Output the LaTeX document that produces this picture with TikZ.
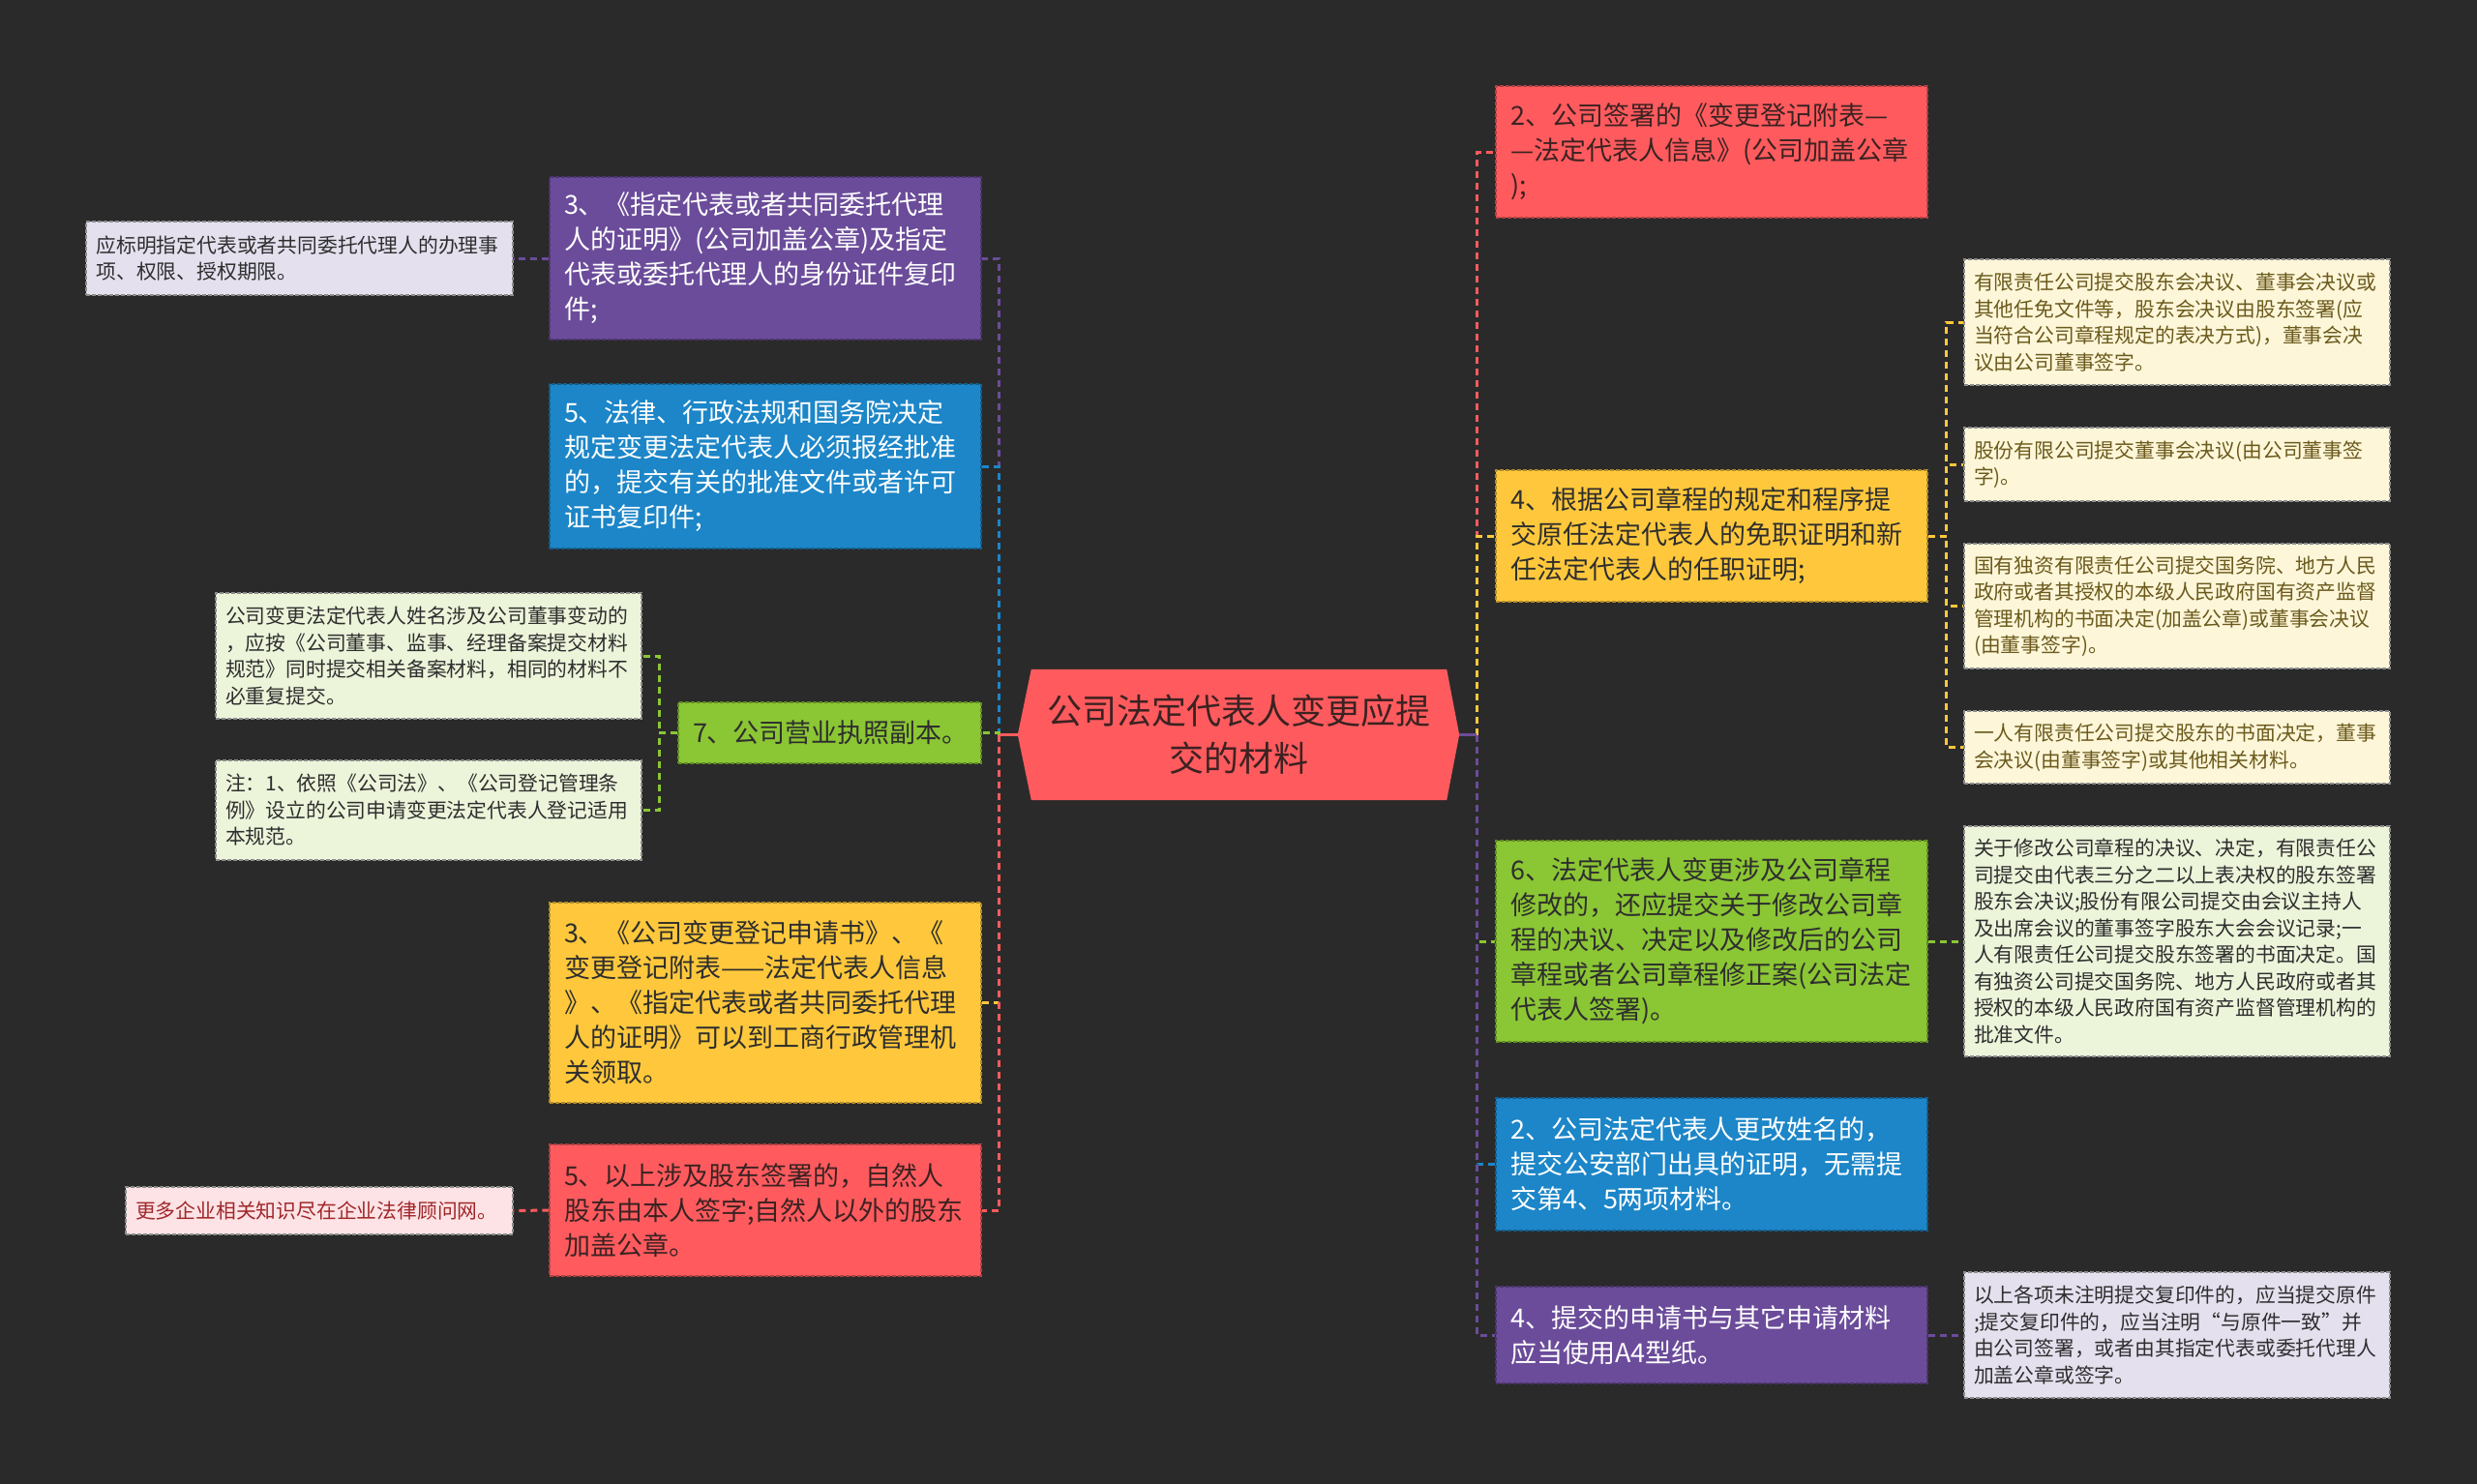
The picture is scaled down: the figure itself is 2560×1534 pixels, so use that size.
\documentclass[tikz,border=0pt]{standalone}
\usepackage{fontspec}
\setmainfont{Noto Sans CJK SC}
\usetikzlibrary{backgrounds}
\definecolor{bgc}{HTML}{2A2A2A}
\definecolor{cpurple}{HTML}{6B4C9A}
\definecolor{cblue}{HTML}{1C86C8}
\definecolor{cgreen}{HTML}{8BC634}
\definecolor{cyellow}{HTML}{FFC83C}
\definecolor{cred}{HTML}{FF5B5E}
\definecolor{llav}{HTML}{E4E0EE}
\definecolor{lgreen}{HTML}{ECF4DA}
\definecolor{lyellow}{HTML}{FDF6D9}
\definecolor{lpink}{HTML}{FDE3E5}
\definecolor{darktext}{HTML}{2E2E2E}
\definecolor{redtext}{HTML}{3C2222}
\definecolor{olivetext}{HTML}{6B5A1C}
\definecolor{pinktext}{HTML}{A0262A}
\pgfdeclarelayer{back}
\pgfsetlayers{back,background,main}
\tikzset{
  box/.style={rectangle, line width=1.2pt, dash pattern=on 4pt off 2pt,
    inner xsep=15pt, inner ysep=0pt, align=left,
    font=\fontsize{27}{36}\selectfont},
  mainbox/.style={box, minimum width=446pt, text width=416pt},
  leafbox/.style={rectangle, line width=1.1pt, dash pattern=on 4pt off 2pt,
    draw=black!45, inner xsep=10pt, inner ysep=0pt, align=left,
    font=\fontsize{20.8}{27.5}\selectfont},
  leaf/.style={leafbox, minimum width=440pt, text width=420pt},
  conn/.style={line width=3pt, dash pattern=on 7pt off 5pt},
  stub/.style={line width=3pt},
  ht/.style={minimum height=#1},
}
\begin{document}
\begin{tikzpicture}[x=1pt,y=-1pt]
\begin{pgfonlayer}{back}
\fill[bgc] (0,0) rectangle (2560,1534);
\end{pgfonlayer}
\useasboundingbox (0,0) rectangle (2560,1534);

% center
\node[font=\fontsize{36}{49}\selectfont, align=center, text=redtext,
  minimum width=456pt, minimum height=135pt, inner sep=0pt] (C) at (1280,759.5)
  {公司法定代表人变更应提\\交的材料};
\begin{pgfonlayer}{background}
\fill[cred] ([xshift=14pt]C.north west) -- ([xshift=-13pt]C.north east) -- (C.east)
  -- ([xshift=-13pt]C.south east) -- ([xshift=14pt]C.south west) -- (C.west) -- cycle;
\end{pgfonlayer}
\coordinate (TL) at ([xshift=-19pt]C.west);
\coordinate (TR) at ([xshift=18pt]C.east);

% left main nodes
\node[mainbox, ht=168pt, fill=cpurple, draw=cpurple!70!black, text=white] (L1) at (791,267)
  {3、《指定代表或者共同委托代理\\人的证明》(公司加盖公章)及指定\\代表或委托代理人的身份证件复印\\件;};
\node[mainbox, ht=170pt, fill=cblue, draw=cblue!70!black, text=white] (L2) at (791,482)
  {5、法律、行政法规和国务院决定\\规定变更法定代表人必须报经批准\\的，提交有关的批准文件或者许可\\证书复印件;};
\node[box, minimum width=313pt, text width=283pt, ht=63pt, fill=cgreen, draw=cgreen!70!black, text=darktext] (L3) at (857.5,757.5)
  {7、公司营业执照副本。};
\node[mainbox, ht=207pt, fill=cyellow, draw=cyellow!70!black, text=darktext] (L4) at (791,1036.5)
  {3、《公司变更登记申请书》、《\\变更登记附表——法定代表人信息\\》、《指定代表或者共同委托代理\\人的证明》可以到工商行政管理机\\关领取。};
\node[mainbox, ht=136pt, fill=cred, draw=cred!70!black, text=redtext] (L5) at (791,1251)
  {5、以上涉及股东签署的，自然人\\股东由本人签字;自然人以外的股东\\加盖公章。};

% left leaves
\node[leaf, minimum width=441pt, ht=76pt, fill=llav, text=darktext] (LL1) at (309.5,267)
  {应标明指定代表或者共同委托代理人的办理事\\项、权限、授权期限。};
\node[leaf, ht=130pt, fill=lgreen, text=darktext] (LL2) at (443,678)
  {公司变更法定代表人姓名涉及公司董事变动的\\，应按《公司董事、监事、经理备案提交材料\\规范》同时提交相关备案材料，相同的材料不\\必重复提交。};
\node[leaf, ht=103pt, fill=lgreen, text=darktext] (LL3) at (443,837.5)
  {注：1、依照《公司法》、《公司登记管理条\\例》设立的公司申请变更法定代表人登记适用\\本规范。};
\node[leafbox, minimum width=400pt, text width=380pt, ht=49pt, fill=lpink, text=pinktext] (LL4) at (330,1251.5)
  {更多企业相关知识尽在企业法律顾问网。};

% right main nodes
\node[mainbox, ht=136pt, fill=cred, draw=cred!70!black, text=redtext] (R1) at (1769,157)
  {2、公司签署的《变更登记附表—\\—法定代表人信息》(公司加盖公章\\);};
\node[mainbox, ht=136pt, fill=cyellow, draw=cyellow!70!black, text=darktext] (R2) at (1769,554)
  {4、根据公司章程的规定和程序提\\交原任法定代表人的免职证明和新\\任法定代表人的任职证明;};
\node[mainbox, ht=208pt, fill=cgreen, draw=cgreen!70!black, text=darktext] (R3) at (1769,973)
  {6、法定代表人变更涉及公司章程\\修改的，还应提交关于修改公司章\\程的决议、决定以及修改后的公司\\章程或者公司章程修正案(公司法定\\代表人签署)。};
\node[mainbox, ht=137pt, fill=cblue, draw=cblue!70!black, text=white] (R4) at (1769,1203.5)
  {2、公司法定代表人更改姓名的，\\提交公安部门出具的证明，无需提\\交第4、5两项材料。};
\node[mainbox, ht=100pt, fill=cpurple, draw=cpurple!70!black, text=white] (R5) at (1769,1380)
  {4、提交的申请书与其它申请材料\\应当使用A4型纸。};

% right leaves
\node[leaf, ht=130pt, fill=lyellow, text=olivetext] (RL1) at (2250,333)
  {有限责任公司提交股东会决议、董事会决议或\\其他任免文件等，股东会决议由股东签署(应\\当符合公司章程规定的表决方式)，董事会决\\议由公司董事签字。};
\node[leaf, ht=76pt, fill=lyellow, text=olivetext] (RL2) at (2250,480)
  {股份有限公司提交董事会决议(由公司董事签\\字)。};
\node[leaf, ht=129pt, fill=lyellow, text=olivetext] (RL3) at (2250,626.5)
  {国有独资有限责任公司提交国务院、地方人民\\政府或者其授权的本级人民政府国有资产监督\\管理机构的书面决定(加盖公章)或董事会决议\\(由董事签字)。};
\node[leaf, ht=75pt, fill=lyellow, text=olivetext] (RL4) at (2250,772.5)
  {一人有限责任公司提交股东的书面决定，董事\\会决议(由董事签字)或其他相关材料。};
\node[leaf, ht=238pt, fill=lgreen, text=darktext] (RL5) at (2250,973)
  {关于修改公司章程的决议、决定，有限责任公\\司提交由代表三分之二以上表决权的股东签署\\股东会决议;股份有限公司提交由会议主持人\\及出席会议的董事签字股东大会会议记录;一\\人有限责任公司提交股东签署的书面决定。国\\有独资公司提交国务院、地方人民政府或者其\\授权的本级人民政府国有资产监督管理机构的\\批准文件。};
\node[leaf, ht=130pt, fill=llav, text=darktext] (RL6) at (2250,1380)
  {以上各项未注明提交复印件的，应当提交原件\\;提交复印件的，应当注明“与原件一致”并\\由公司签署，或者由其指定代表或委托代理人\\加盖公章或签字。};

% connectors: center to left
\draw[conn, cpurple] (TL) |- (L1.east);
\draw[conn, cblue] (TL) |- (L2.east);
\draw[conn, cgreen] (TL) |- (L3.east);
\draw[conn, cyellow] (TL) |- (L4.east);
\draw[conn, cred] (TL) |- (L5.east);
\draw[stub, cred] (C.west) -- (TL);
% center to right
\draw[conn, cred] (TR) |- (R1.west);
\draw[conn, cyellow] (TR) |- (R2.west);
\draw[conn, cgreen] (TR) |- (R3.west);
\draw[conn, cblue] (TR) |- (R4.west);
\draw[conn, cpurple] (TR) |- (R5.west);
\draw[stub, cpurple] (C.east) -- (TR);
% left leaves
\draw[conn, cpurple] (L1.west) -- (LL1.east);
\draw[conn, cgreen] (L3.west) -- ++(-19,0) |- (LL2.east);
\draw[conn, cgreen] (L3.west) -- ++(-19,0) |- (LL3.east);
\draw[conn, cred] (L5.west) -- (LL4.east);
% right leaves
\draw[conn, cyellow] (R2.east) -- ++(19,0) |- (RL1.west);
\draw[conn, cyellow] (R2.east) -- ++(19,0) |- (RL2.west);
\draw[conn, cyellow] (R2.east) -- ++(19,0) |- (RL3.west);
\draw[conn, cyellow] (R2.east) -- ++(19,0) |- (RL4.west);
\draw[conn, cgreen] (R3.east) -- (RL5.west);
\draw[conn, cpurple] (R5.east) -- (RL6.west);
\end{tikzpicture}
\end{document}
